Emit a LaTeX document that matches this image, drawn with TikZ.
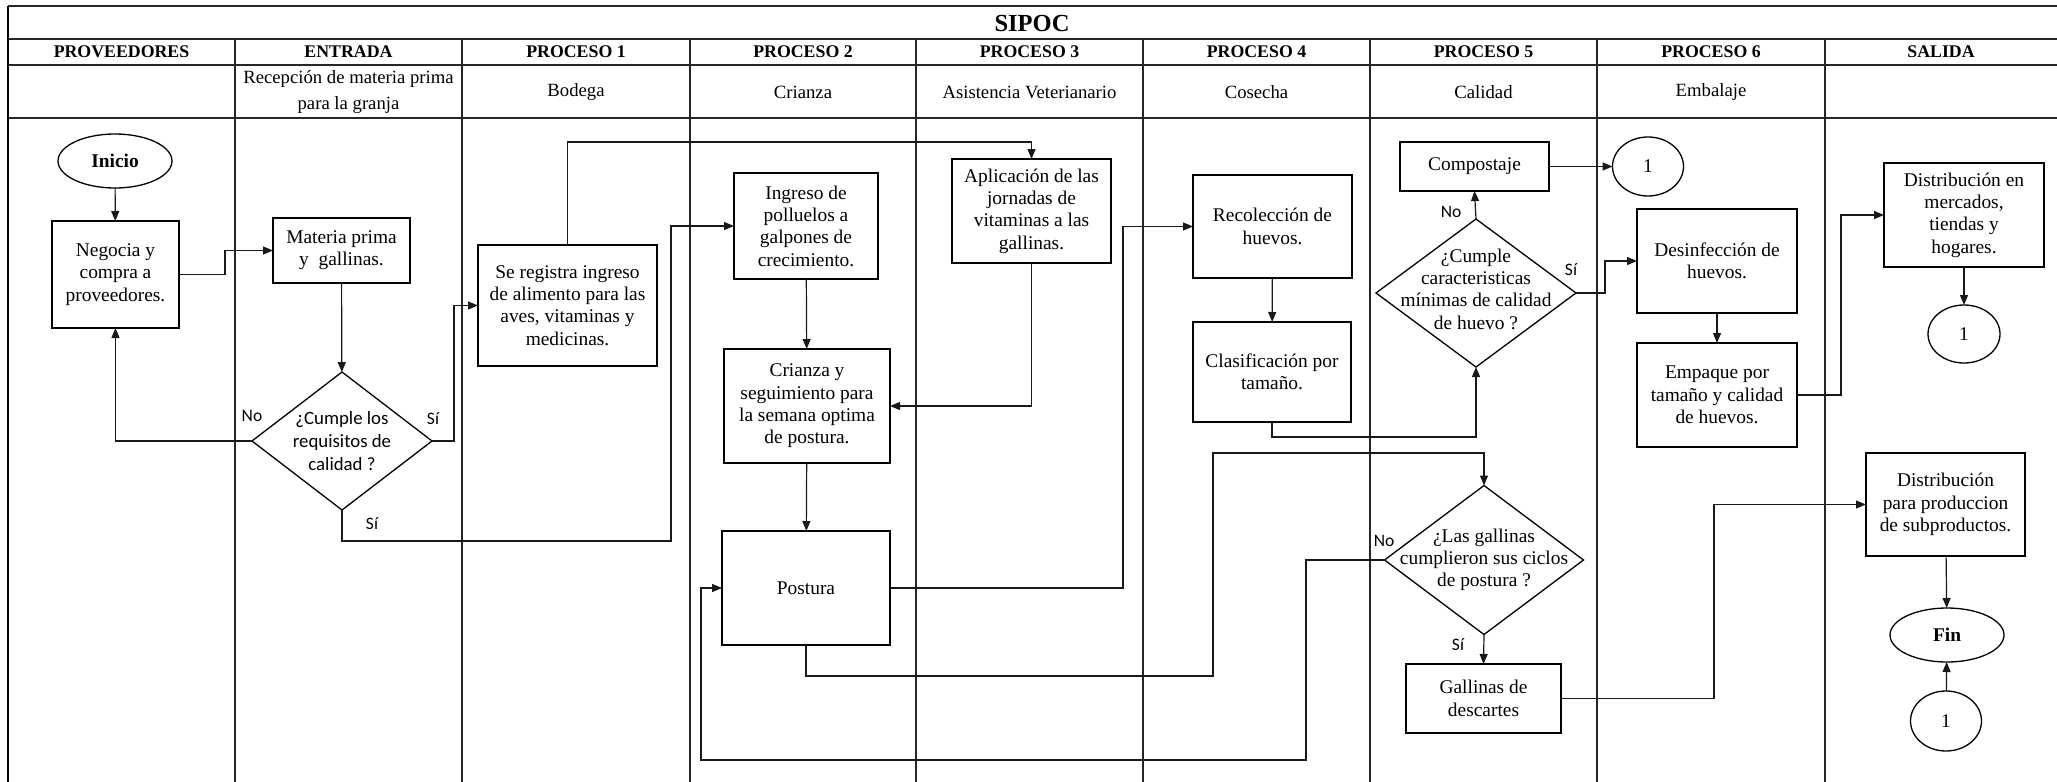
\documentclass[tikz,border=0pt]{standalone}
\usepackage{fontspec}
\setmainfont{Liberation Serif}
\newfontfamily\calib{Carlito}
\usetikzlibrary{shapes.geometric,arrows.meta}
\begin{document}
\begin{tikzpicture}[x=1pt,y=-1pt,
  every node/.style={inner sep=0pt, outer sep=0pt},
  tab/.style={line width=1.6pt, draw=black!85},
  box/.style={draw, line width=1.3pt, fill=white, align=center, font=\fontsize{19.4}{22.3}\selectfont},
  oval/.style={ellipse, draw, line width=1.3pt, fill=white, align=center, font=\fontsize{19.4}{22.3}\selectfont},
  dia/.style={diamond, draw, line width=1.3pt, fill=white},
  dtext/.style={align=center, font=\fontsize{19.4}{22.3}\selectfont},
  dtextc/.style={align=center, font=\calib\fontsize{18.8}{23}\selectfont},
  hdr/.style={font=\bfseries\fontsize{17.8}{20}\selectfont},
  sub/.style={align=center, font=\fontsize{18.7}{26}\selectfont},
  lbl/.style={font=\calib\fontsize{17.5}{20}\selectfont},
  ln/.style={line width=1.2pt, draw=black!90},
  arr/.style={ln, -{Triangle[length=10pt,width=8pt]}}]
\useasboundingbox (0,0) rectangle (2057,782);
% table
\draw[tab] (8,6) -- (2057,6);
\draw[tab] (8,39) -- (2057,39);
\draw[tab] (8,65) -- (2057,65);
\draw[tab] (8,118) -- (2057,118);
\draw[line width=2.2pt] (8,6) -- (8,782);
\foreach \cx in {235,462,690,916,1143,1370,1597,1825}
  \draw[tab] (\cx,39) -- (\cx,782);
\node[font=\bfseries\fontsize{24.5}{28}\selectfont] (title) at (1032,24) {SIPOC};
\node[hdr] (h1) at (121.5,52) {PROVEEDORES};
\node[hdr] (h2) at (348.5,52) {ENTRADA};
\node[hdr] (h3) at (576,52) {PROCESO 1};
\node[hdr] (h4) at (803,52) {PROCESO 2};
\node[hdr] (h5) at (1029.5,52) {PROCESO 3};
\node[hdr] (h6) at (1256.5,52) {PROCESO 4};
\node[hdr] (h7) at (1483.5,52) {PROCESO 5};
\node[hdr] (h8) at (1711,52) {PROCESO 6};
\node[hdr] (h9) at (1941,52) {SALIDA};
\node[sub] (s2) at (348.5,92) {Recepción de materia prima\\para la granja};
\node[sub] (s3) at (576,92) {Bodega};
\node[sub] (s4) at (803,92) {Crianza};
\node[sub] (s5) at (1029.5,92) {Asistencia Veterianario};
\node[sub] (s6) at (1256.5,92) {Cosecha};
\node[sub] (s7) at (1483.5,92) {Calidad};
\node[sub] (s8) at (1711,92) {Embalaje};
% nodes
\node[oval, minimum width=114pt, minimum height=54pt, font=\bfseries\fontsize{19.4}{22}\selectfont] (ini) at (115,161) {Inicio};
\node[box, minimum width=127pt, minimum height=107pt] (neg) at (115.5,274.5) {Negocia y\\compra a\\proveedores.};
\node[box, minimum width=137pt, minimum height=65pt] (mat) at (341.5,250.5) {Materia prima\\y\ \ gallinas.};
\node[dia, minimum width=180pt, minimum height=138pt] (d1) at (342,441) {};
\node[dtextc] (d1t) at (342,441) {¿Cumple los\\requisitos de\\calidad ?};
\node[box, minimum width=179pt, minimum height=121pt] (reg) at (567.5,305.5) {Se registra ingreso\\de alimento para las\\aves, vitaminas y\\medicinas.};
\node[box, minimum width=144pt, minimum height=106pt] (ing) at (806,226) {Ingreso de\\polluelos a\\galpones de\\crecimiento.};
\node[box, minimum width=166pt, minimum height=114pt] (cri) at (807,406) {Crianza y\\seguimiento para\\la semana optima\\de postura.};
\node[box, minimum width=168pt, minimum height=114pt] (pos) at (806,588) {Postura};
\node[box, minimum width=159pt, minimum height=104pt] (apl) at (1031.5,211) {Aplicación de las\\jornadas de\\vitaminas a las\\gallinas.};
\node[box, minimum width=159pt, minimum height=103pt] (rec) at (1272.5,226.5) {Recolección de\\huevos.};
\node[box, minimum width=158pt, minimum height=100pt] (cla) at (1272,372) {Clasificación por\\tamaño.};
\node[box, minimum width=149pt, minimum height=49pt] (com) at (1474.5,166.5) {Compostaje};
\node[oval, minimum width=71pt, minimum height=59pt] (c1a) at (1648,166.5) {1};
\node[dia, minimum width=200pt, minimum height=148pt] (d2) at (1476,293) {};
\node[dtext] (d2t) at (1476,289) {¿Cumple\\caracteristicas\\mínimas de calidad\\de huevo ?};
\node[box, minimum width=160pt, minimum height=104pt] (des) at (1717,261) {Desinfección de\\huevos.};
\node[box, minimum width=160pt, minimum height=104pt] (emp) at (1717,395) {Empaque por\\tamaño y calidad\\de huevos.};
\node[box, minimum width=160pt, minimum height=104pt] (dim) at (1964,215) {Distribución en\\mercados,\\tiendas y\\hogares.};
\node[oval, minimum width=72pt, minimum height=58pt] (c1b) at (1964,334) {1};
\node[dia, minimum width=199pt, minimum height=149pt] (d3) at (1484,560) {};
\node[dtext] (d3t) at (1484,560) {¿Las gallinas\\cumplieron sus ciclos\\de postura ?};
\node[box, minimum width=155pt, minimum height=69pt] (gal) at (1483.5,698.5) {Gallinas de\\descartes};
\node[box, minimum width=159pt, minimum height=103pt] (dsp) at (1945.5,504.5) {Distribución\\para produccion\\de subproductos.};
\node[oval, minimum width=114pt, minimum height=54pt, font=\bfseries\fontsize{19.4}{22}\selectfont] (fin) at (1947,635) {Fin};
\node[oval, minimum width=71pt, minimum height=60pt] (c1c) at (1946,721) {1};
% labels
\node[lbl] (l1) at (252,416) {No};
\node[lbl] (l2) at (433,419) {Sí};
\node[lbl] (l3) at (372,524) {Sí};
\node[lbl] (l4) at (1451,212) {No};
\node[lbl] (l5) at (1571,270) {Sí};
\node[lbl] (l6) at (1384,541) {No};
\node[lbl] (l7) at (1458,645) {Sí};
% connectors
\draw[arr] (ini) -- (neg);
\draw[arr] (neg.east) -- (225,274.5) |- (mat.west);
\draw[arr] (mat) -- (d1);
\draw[arr] (d1.west) -| (neg.south);
\draw[arr] (d1.east) -- (454,441) |- (reg.west);
\draw[arr] (d1.south) |- (671,541) |- (ing.west);
\draw[arr] (reg.north) -- (567.5,142) -| (apl.north);
\draw[arr] (ing) -- (cri);
\draw[arr] (apl.south) |- (cri.east);
\draw[arr] (cri) -- (pos);
\draw[arr] (pos.east) -- (1123,588) |- (rec.west);
\draw[arr] (rec) -- (cla);
\draw[arr] (cla.south) -- (1272,437) -| (d2.south);
\draw[arr] (d2.north) -- (com.south);
\draw[arr] (com.east) -- (c1a.west);
\draw[arr] (d2.east) -- (1605,293) |- (des.west);
\draw[arr] (des) -- (emp);
\draw[arr] (emp.east) -- (1841,395) |- (dim.west);
\draw[arr] (dim) -- (c1b);
\draw[arr] (pos.south) |- (1213,676) -- (1213,453) -| (d3.north);
\draw[arr] (d3.west) -- (1306,560) |- (701,760) |- (pos.west);
\draw[arr] (d3.south) -- (gal.north);
\draw[arr] (gal.east) -- (1714,698.5) |- (dsp.west);
\draw[arr] (dsp) -- (fin);
\draw[arr] (c1c) -- (fin);
\end{tikzpicture}
\end{document}
